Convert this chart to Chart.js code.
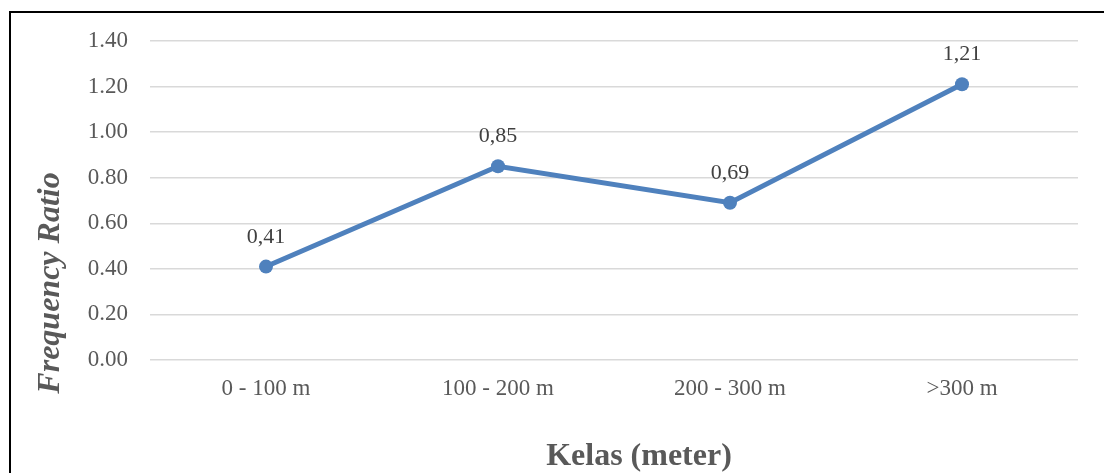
<!DOCTYPE html>
<html>
<head>
<meta charset="utf-8">
<script src="https://cdn.jsdelivr.net/npm/chart.js@4"></script>
<style>
  html, body { margin: 0; padding: 0; background: #fff; }
  #wrap { position: relative; width: 1104px; height: 473px; }
</style>
</head>
<body>
<div id="wrap"><canvas id="mycanvas" width="1104" height="473"></canvas></div>
<script>
var kelas = ['0 - 100 m', '100 - 200 m', '200 - 300 m', '>300 m'];
var ratio = [0.41, 0.85, 0.69, 1.21];
var yTicks = [0, 0.2, 0.4, 0.6, 0.8, 1.0, 1.2, 1.4];

var serif = "'Liberation Serif', 'Times New Roman', serif";

// frame + axis titles + value labels
var extras = {
	id: 'extras',
	beforeDraw: function(chart) {
		var c = chart.ctx;
		c.save();
		c.strokeStyle = '#000';
		c.lineWidth = 2;
		c.beginPath();
		c.moveTo(10, 480);
		c.lineTo(10, 12);
		c.lineTo(1104, 12);
		c.stroke();
		c.restore();
	},
	afterDatasetsDraw: function(chart) {
		var c = chart.ctx;
		var meta = chart.getDatasetMeta(0);
		c.save();
		c.fillStyle = '#404040';
		c.font = '22px ' + serif;
		c.textAlign = 'center';
		c.textBaseline = 'alphabetic';
		meta.data.forEach(function(pt, i) {
			c.fillText(ratio[i].toFixed(2).replace('.', ','), pt.x, pt.y - 24);
		});

		c.fillStyle = '#595959';
		c.font = 'bold 32px ' + serif;
		c.fillText('Kelas (meter)', 639, 465);

		c.translate(59, 283);
		c.rotate(-Math.PI / 2);
		c.font = 'italic bold 32px ' + serif;
		c.fillText('Frequency Ratio', 0, 0);
		c.restore();
	}
};

var ctx = document.getElementById('mycanvas');

var lineGraph = new Chart(ctx, {
	type: 'line',
	data: {
		labels: kelas,
		datasets: [{
			data: ratio,
			borderColor: '#4F81BD',
			backgroundColor: '#4F81BD',
			borderWidth: 5,
			pointRadius: 7,
			pointHoverRadius: 7,
			pointBorderWidth: 0,
			tension: 0
		}]
	},
	options: {
		responsive: false,
		animation: false,
		devicePixelRatio: 1,
		layout: { padding: { left: 30, top: 41, right: 26, bottom: 0 } },
		plugins: {
			legend: { display: false },
			tooltip: { enabled: false }
		},
		scales: {
			x: {
				offset: true,
				grid: { display: false, drawTicks: false },
				border: { display: false },
				ticks: {
					color: '#595959',
					font: { family: serif, size: 23 },
					padding: 15,
					maxRotation: 0
				},
				afterFit: function(s) { s.height = 113; }
			},
			y: {
				min: 0,
				max: 1.4,
				afterBuildTicks: function(s) {
					s.ticks = yTicks.map(function(v) { return { value: v }; });
				},
				grid: { color: '#d9d9d9', lineWidth: 1.5, drawTicks: false },
				border: { display: false },
				ticks: {
					color: '#595959',
					font: { family: serif, size: 23 },
					padding: 22,
					callback: function(v) { return v.toFixed(2); }
				},
				afterFit: function(s) { s.width = 120; }
			}
		}
	},
	plugins: [extras]
});
</script>
</body>
</html>
